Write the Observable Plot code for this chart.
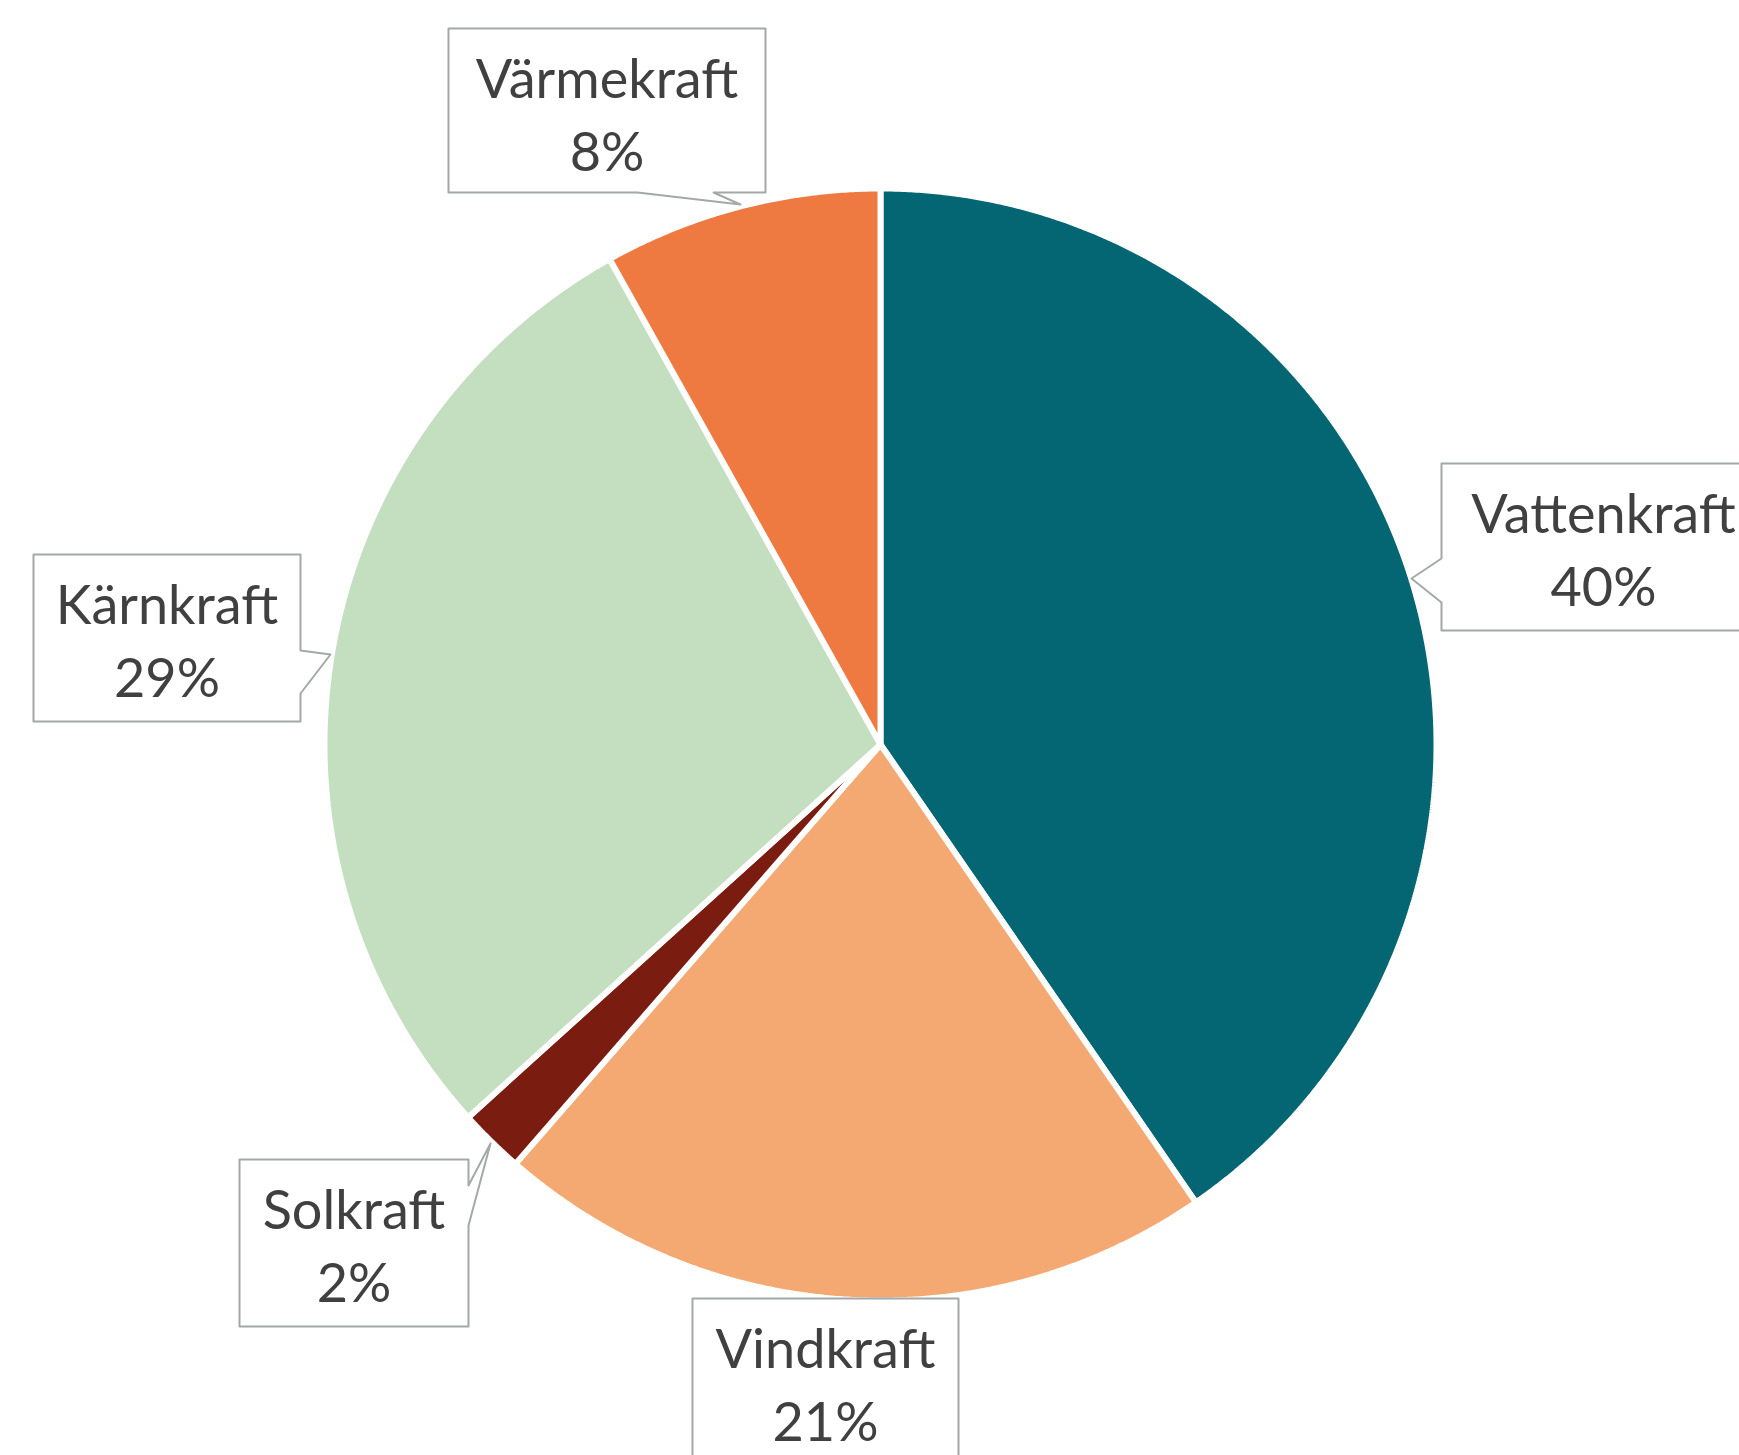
<!DOCTYPE html>
<html>
<head>
<meta charset="utf-8">
<script src="https://cdn.jsdelivr.net/npm/d3@7"></script>
<script src="https://cdn.jsdelivr.net/npm/@observablehq/plot@0.6"></script>
<style>
  html, body { margin: 0; padding: 0; background: #fff; overflow: hidden; }
</style>
</head>
<body>
<div id="chart"></div>
<script>
// ---- data ----
const categories = ["Vattenkraft", "Vindkraft", "Solkraft", "Kärnkraft", "Värmekraft"];
const values = [40.4, 21.0, 1.9, 28.6, 8.1];
const colors = ["#046673", "#F4A972", "#7B1C10", "#C3DFBF", "#EE7A42"];

// ---- layout (pixels) ----
const W = 1739, H = 1455;
const cx = 880, cy = 744, R = 556;
// callout boxes: [x0, y0, x1, y1], pointer side, base positions, tip
const callouts = [
  {name: "Vattenkraft", box: [1441, 463, 1765, 630], side: "left",   base: [558, 602], tip: [1411, 578]},
  {name: "Vindkraft",   box: [692, 1298, 958, 1465], side: null},
  {name: "Solkraft",    box: [239, 1159, 468, 1326], side: "right",  base: [1185, 1225], tip: [490, 1143]},
  {name: "Kärnkraft",   box: [33, 554, 300, 721],    side: "right",  base: [650, 693], tip: [330, 654]},
  {name: "Värmekraft",  box: [448, 28, 765, 192],    side: "bottom", base: [637, 713], tip: [740, 204]}
];
const fontSize = 54, lineGap = 73;

// ---- slices ----
const arcs = d3.pie().sort(null).startAngle(0).endAngle(2 * Math.PI)(values);
const slicePts = [];
arcs.forEach((a, i) => {
  const name = categories[i];
  slicePts.push({name, x: cx, y: cy});
  const n = Math.max(4, Math.ceil((a.endAngle - a.startAngle) / 0.005));
  for (let k = 0; k <= n; k++) {
    const t = a.startAngle + (a.endAngle - a.startAngle) * k / n;
    slicePts.push({name, x: cx + R * Math.sin(t), y: cy - R * Math.cos(t)});
  }
});

// ---- callout polygons ----
const boxPts = [];
callouts.forEach(c => {
  const [x0, y0, x1, y1] = c.box;
  const p = [];
  p.push([x0, y0]);
  p.push([x1, y0]);
  if (c.side === "right") { p.push([x1, c.base[0]], c.tip, [x1, c.base[1]]); }
  p.push([x1, y1]);
  if (c.side === "bottom") { p.push([c.base[1], y1], c.tip, [c.base[0], y1]); }
  p.push([x0, y1]);
  if (c.side === "left") { p.push([x0, c.base[1]], c.tip, [x0, c.base[0]]); }
  p.forEach(([x, y]) => boxPts.push({name: c.name, x, y}));
});

const labelRows = callouts.map(c => {
  const i = categories.indexOf(c.name);
  const [x0, y0, x1] = c.box;
  return {
    name: c.name,
    text: `${c.name}\n${Math.round(values[i])}%`,
    x: (x0 + x1) / 2,
    y: y0 + 63 + lineGap / 2 - 0.32 * fontSize
  };
});

const chart = Plot.plot({
  width: W,
  height: H,
  margin: 0,
  x: {domain: [0, W], range: [0, W], axis: null},
  y: {domain: [0, H], range: [0, H], axis: null},
  color: {domain: categories, range: colors},
  style: {background: "#fff", overflow: "hidden"},
  marks: [
    Plot.line(slicePts, {x: "x", y: "y", z: "name", fill: "name", stroke: "#fff", strokeWidth: 6, strokeLinejoin: "miter", curve: "linear-closed"}),
    Plot.line(boxPts, {x: "x", y: "y", z: "name", fill: "#fff", stroke: "#a4a8a8", strokeWidth: 2, curve: "linear-closed"}),
    Plot.text(labelRows, {x: "x", y: "y", text: "text", fontSize, lineHeight: lineGap / fontSize, lineAnchor: "middle", fill: "#404040", fontFamily: "Lato, 'Open Sans', sans-serif"})
  ]
});
document.getElementById("chart").appendChild(chart);
</script>
</body>
</html>
